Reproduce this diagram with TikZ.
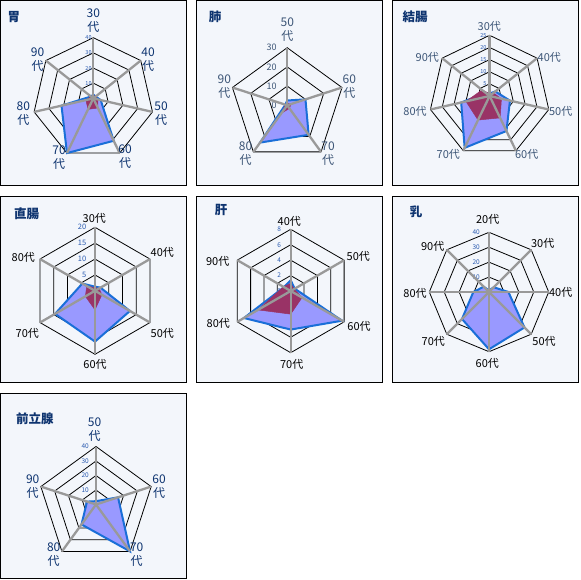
\documentclass[tikz,border=0pt]{standalone}
\usepackage{fontspec}
\setmainfont{Noto Sans CJK JP}
\definecolor{panelbg}{HTML}{F3F6FB}
\definecolor{navy}{HTML}{0E3470}
\definecolor{slate}{HTML}{3D5677}
\definecolor{sclblue}{HTML}{2B5BB0}
\definecolor{spokegray}{HTML}{999999}
\definecolor{serA}{HTML}{9999FF}
\definecolor{serAedge}{HTML}{1A6FD8}
\definecolor{serB}{HTML}{993366}
\tikzset{
  panel/.style={draw=black, line width=1pt, fill=panelbg},
  ring/.style={draw=black, line width=0.8pt, line join=miter},
  spoke/.style={draw=spokegray, line width=2.3pt},
  serieA/.style={fill=serA, draw=serAedge, line width=2pt, line join=miter},
  serieB/.style={fill=serB, draw=serB, line width=0.5pt, line join=miter},
  ttl/.style={font=\fontsize{12.5}{14}\selectfont\bfseries, text=navy, inner sep=0pt},
  axl/.style={font=\fontsize{11}{13}\selectfont, inner sep=0pt},
  axltwo/.style={font=\fontsize{12}{14}\selectfont, inner sep=0pt, align=center},
  scl/.style={anchor=east, inner sep=0pt, text=sclblue}
}
\newcommand\radarframe[5]{%
  \pgfmathtruncatemacro\rfN{#1-1}%
  \foreach \k in {1,...,#3}{%
    \draw[ring] (-90:{#2*\k/#3}) \foreach \j in {1,...,\rfN}{ -- ({-90+\j*360/#1}:{#2*\k/#3}) } -- cycle;
  }%
  \foreach \k in {0,...,#3}{%
    \pgfmathtruncatemacro\rfL{\k*#4}%
    \node[#5] (sc\k) at (0,{-#2*\k/#3}) {\rfL};
  }%
}
\newcommand\radarspokes[2]{%
  \foreach \j in {1,...,#1}{ \draw[spoke] (0,0) -- ({-90+\j*360/#1}:#2); }%
}
\newcommand\radarpoly[5]{%
  \foreach \v [count=\j from 0] in {#5}{ \coordinate (dp\j) at ({-90+\j*360/#2}:{#3*\v/#4}); }%
  \pgfmathtruncatemacro\rpN{#2-1}%
  \path[#1] (dp0) \foreach \j in {1,...,\rpN}{ -- (dp\j) } -- cycle;
}
\begin{document}
\begin{tikzpicture}[x=1pt,y=-1pt]
\useasboundingbox (0,0) rectangle (580,580);
\fill[white] (0,0) rectangle (580,580);
% panels
\draw[panel] (0.5,0.5) rectangle (186.5,185.5);
\draw[panel] (196.5,0.5) rectangle (382.5,185.5);
\draw[panel] (392.5,0.5) rectangle (578.5,185.5);
\draw[panel] (0.5,196.5) rectangle (186.5,382.5);
\draw[panel] (196.5,196.5) rectangle (382.5,382.5);
\draw[panel] (392.5,196.5) rectangle (578.5,382.5);
\draw[panel] (0.5,393.5) rectangle (186.5,578.5);

% ---------- Panel 1: 胃
\begin{scope}[shift={(93.3,98.4)}]
  \radarframe{7}{60.7}{4}{10}{scl,font=\fontsize{5.5}{6}\selectfont,xshift=-1.5pt}
  \radarpoly{serieA}{7}{60.7}{40}{2.5,2,5,31,40,21.5,2}
  \radarpoly{serieB}{7}{60.7}{40}{2,2,3,7,8,5,2}
  \radarspokes{7}{60.7}
\end{scope}
\node[ttl] (t1) at (14,17) {胃};
\node[axltwo,text=navy] (a1a) at (93.3,20.5) {30\\代};
\node[axltwo,text=navy] (a1b) at (148,59.7) {40\\代};
\node[axltwo,text=navy] (a1c) at (161,113.7) {50\\代};
\node[axltwo,text=navy] (a1d) at (125,156.5) {60\\代};
\node[axltwo,text=navy] (a1e) at (59,157.5) {70\\代};
\node[axltwo,text=navy] (a1f) at (23.3,113.7) {80\\代};
\node[axltwo,text=navy] (a1g) at (37.5,59.7) {90\\代};

% ---------- Panel 2: 肺
\begin{scope}[shift={(287.2,105.3)}]
  \radarframe{5}{57.6}{3}{10}{scl,text=slate,font=\fontsize{9}{10}\selectfont,xshift=-10.5pt}
  \radarpoly{serieA}{5}{57.6}{30}{2.5,10,19,24,1}
  \radarpoly{serieB}{5}{57.6}{30}{1,2,2,5,1}
  \radarspokes{5}{57.6}
\end{scope}
\node[ttl] (t2) at (215,17.3) {肺};
\node[axltwo,text=slate] (a2a) at (287.3,29.7) {50\\代};
\node[axltwo,text=slate] (a2b) at (349.3,86.7) {60\\代};
\node[axltwo,text=slate] (a2c) at (328,154) {70\\代};
\node[axltwo,text=slate] (a2d) at (245.5,154) {80\\代};
\node[axltwo,text=slate] (a2e) at (224.3,86.7) {90\\代};

% ---------- Panel 3: 結腸
\begin{scope}[shift={(489.6,96)}]
  \radarframe{7}{60.7}{5}{5}{scl,font=\fontsize{5.5}{6}\selectfont,xshift=-3pt}
  \radarpoly{serieA}{7}{60.7}{25}{1,3,8.6,16,23.7,12,2}
  \radarpoly{serieB}{7}{60.7}{25}{1,2,5,10,11,10,4}
  \radarspokes{7}{60.7}
\end{scope}
\node[ttl] (t3) at (415,16.7) {結腸};
\node[axl,text=slate] (a3a) at (489.3,26) {30代};
\node[axl,text=slate] (a3b) at (549.3,57.3) {40代};
\node[axl,text=slate] (a3c) at (560.7,111) {50代};
\node[axl,text=slate] (a3d) at (526.7,154) {60代};
\node[axl,text=slate] (a3e) at (448.3,154) {70代};
\node[axl,text=slate] (a3f) at (415,111) {80代};
\node[axl,text=slate] (a3g) at (427.3,57.3) {90代};

% ---------- Panel 4: 直腸
\begin{scope}[shift={(95,290.8)}]
  \radarframe{6}{63.5}{4}{5}{scl,font=\fontsize{7.5}{8}\selectfont,xshift=-8.5pt}
  \radarpoly{serieA}{6}{63.5}{20}{1.3,2,12.7,16,14.5,4.6}
  \radarpoly{serieB}{6}{63.5}{20}{1,1.5,2.5,6,3.5,3}
  \radarspokes{6}{63.5}
\end{scope}
\node[ttl] (t4) at (26.7,213.3) {直腸};
\node[axl] (a4a) at (94.3,218.3) {30代};
\node[axl] (a4b) at (162.3,252.3) {40代};
\node[axl] (a4c) at (162.3,333.3) {50代};
\node[axl] (a4d) at (95,364.3) {60代};
\node[axl] (a4e) at (27.3,333.3) {70代};
\node[axl] (a4f) at (23.3,257.3) {80代};

% ---------- Panel 5: 肝
\begin{scope}[shift={(290.7,291)}]
  \radarframe{6}{61.7}{4}{2}{scl,font=\fontsize{6.5}{7}\selectfont,xshift=-9.5pt}
  \radarpoly{serieA}{6}{61.7}{8}{1.4,0.6,7.7,5,7,1}
  \radarpoly{serieB}{6}{61.7}{8}{1,0.5,1.7,3,4.9,1.1}
  \radarspokes{6}{61.7}
\end{scope}
\node[ttl] (t5) at (221,210) {肝};
\node[axl] (a5a) at (289.3,221) {40代};
\node[axl] (a5b) at (358.3,256.7) {50代};
\node[axl] (a5c) at (359,326.7) {60代};
\node[axl] (a5d) at (291.7,364.3) {70代};
\node[axl] (a5e) at (218.3,323.3) {80代};
\node[axl] (a5f) at (217.7,261) {90代};

% ---------- Panel 6: 乳
\begin{scope}[shift={(489,292)}]
  \radarframe{8}{59.7}{4}{10}{scl,font=\fontsize{6.5}{7}\selectfont,xshift=-9pt}
  \radarpoly{serieA}{8}{59.7}{40}{1,4.5,13,33.6,38.4,25.6,10.5,5}
  \radarspokes{8}{59.7}
\end{scope}
\node[ttl] (t6) at (416,211.7) {乳};
\node[axl] (a6a) at (487.7,219) {20代};
\node[axl] (a6b) at (542.7,243.3) {30代};
\node[axl] (a6c) at (560.7,292.3) {40代};
\node[axl] (a6d) at (544,341.7) {50代};
\node[axl] (a6e) at (487.3,363.3) {60代};
\node[axl] (a6f) at (433.3,341.7) {70代};
\node[axl] (a6g) at (415,293.3) {80代};
\node[axl] (a6h) at (432.7,246.7) {90代};

% ---------- Panel 7: 前立腺
\begin{scope}[shift={(96,504.5)}]
  \radarframe{5}{58}{4}{10}{scl,font=\fontsize{6.5}{7}\selectfont,xshift=-7pt}
  \radarpoly{serieA}{5}{58}{40}{2.3,16,40,17,6.5}
  \radarspokes{5}{58}
\end{scope}
\node[ttl] (t7) at (35,419) {前立腺};
\node[axltwo,text=navy] (a7a) at (94.5,429.5) {50\\代};
\node[axltwo,text=navy] (a7b) at (159,486.3) {60\\代};
\node[axltwo,text=navy] (a7c) at (136.7,554.2) {70\\代};
\node[axltwo,text=navy] (a7d) at (53.7,554.2) {80\\代};
\node[axltwo,text=navy] (a7e) at (32.7,486.3) {90\\代};
\end{tikzpicture}
\end{document}
